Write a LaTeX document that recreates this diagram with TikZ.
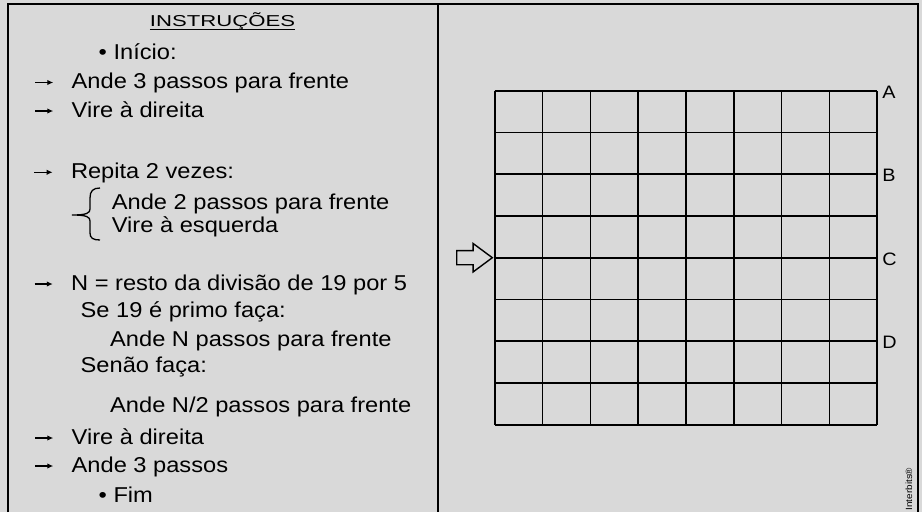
\documentclass[tikz,border=0pt]{standalone}
\usepackage{fontspec}
\setmainfont{Liberation Sans}[FakeStretch=1.1]
\newfontfamily\headfont{Liberation Sans}[FakeStretch=1.4]
\usepackage{xcolor}
\definecolor{PanelGray}{HTML}{D9D9D9}
\usetikzlibrary{arrows.meta,positioning,shapes.arrows}
\tikzset{
  framestroke/.style={draw=black,line width=1.7pt},
  gridline/.style={draw=black,line width=1.6pt},
  instr/.style={
    anchor=base west,
    inner sep=0pt,
    font=\fontsize{21.5}{24}\selectfont
  },
  headtext/.style={
    anchor=base,
    inner sep=0pt,
    font=\headfont\fontsize{15.8}{18}\selectfont
  },
  itemarrow/.style={
    draw=black,
    -{Latex[length=6pt,width=5.5pt]},
    line width=1.3pt
  },
  bracestroke/.style={draw=black,line width=1.3pt},
  rowlabel/.style={
    inner sep=0pt,
    yshift=-1.5pt,
    font=\fontsize{18}{20}\selectfont
  },
  entryarrow/.style={
    draw=black,
    fill=PanelGray,
    line width=1.4pt,
    single arrow,
    single arrow head extend=7.15pt,
    single arrow tip angle=73,
    single arrow head indent=0pt,
    minimum height=35.6pt,
    minimum width=0pt,
    inner xsep=0pt,
    inner ysep=6.35pt
  }
}

\begin{document}
\begin{tikzpicture}[x=1pt,y=-1pt]
  \useasboundingbox (0,0) rectangle (922,512);
  \fill[PanelGray] (0,0) rectangle (922,512);
  % frame and divider
  \draw[framestroke] (8,512) -- (8,4) -- (918,4) -- (918,512);
  \draw[framestroke] (438,4) -- (438,512);

  % instructions
  \node[headtext] (title) at (222.5,26) {INSTRUÇÕES};
  \draw[line width=0.9pt] ([yshift=-3.3pt]title.base west) -- ([yshift=-3.3pt]title.base east);
  \node[instr] (start) at (98.5,59.3) {• Início:};
  \node[instr] (walkA) at (71.5,88.5) {Ande 3 passos para frente};
  \node[instr] (turnA) at (71.5,117) {Vire à direita};
  \node[instr] (repeat) at (70.8,178.3) {Repita 2 vezes:};
  \node[instr] (loopwalk) at (111.7,209.5) {Ande 2 passos para frente};
  \node[instr] (loopturn) at (111.7,232) {Vire à esquerda};
  \node[instr] (remainder) at (71,290) {N = resto da divisão de 19 por 5};
  \node[instr] (ifprime) at (80.5,317.3) {Se 19 é primo faça:};
  \node[instr] (walkN) at (110,346.7) {Ande N passos para frente};
  \node[instr] (otherwise) at (80.5,372.7) {Senão faça:};
  \node[instr] (walkHalf) at (110,412) {Ande N/2 passos para frente};
  \node[instr] (turnB) at (71.5,444) {Vire à direita};
  \node[instr] (walkB) at (71.5,472) {Ande 3 passos};
  \node[instr] (stop) at (98.5,502) {• Fim};
  \foreach \line in {walkA,turnA,repeat,remainder,turnB,walkB}{\draw[itemarrow] ([xshift=-36.5pt,yshift=6pt]\line.base west) -- ++(18.3,0);}
  \draw[bracestroke] (100,188) .. controls (93,188) and (90,191) .. (90,198) -- (90,209)
    .. controls (90,213) and (87,215) .. (72,215)
    .. controls (87,215) and (90,217) .. (90,221) -- (90,233)
    .. controls (90,238) and (93,240) .. (100,240);

  % board
  \begin{scope}[shift={(494.7,424.7)},x=47.8pt,y=41.75pt]
    \draw[gridline,step=1] (0,0) grid (8,8);
    \coordinate (rowA) at (8,8);
    \coordinate (rowB) at (8,6);
    \coordinate (rowC) at (8,4);
    \coordinate (rowD) at (8,2);
    \coordinate (entrypoint) at (0,4);
  \end{scope}
  \node[rowlabel,right=5pt of rowA] (labelA) {A};
  \node[rowlabel,right=5pt of rowB] (labelB) {B};
  \node[rowlabel,right=5pt of rowC] (labelC) {C};
  \node[rowlabel,right=5pt of rowD] (labelD) {D};
  \node[entryarrow,anchor=tip] (entry) at ([xshift=-1.2pt]entrypoint) {};
  \node[rotate=90,inner sep=0pt,font=\fontsize{9}{10}\selectfont] (credit) at (909,489) {Interbits®};
\end{tikzpicture}
\end{document}
